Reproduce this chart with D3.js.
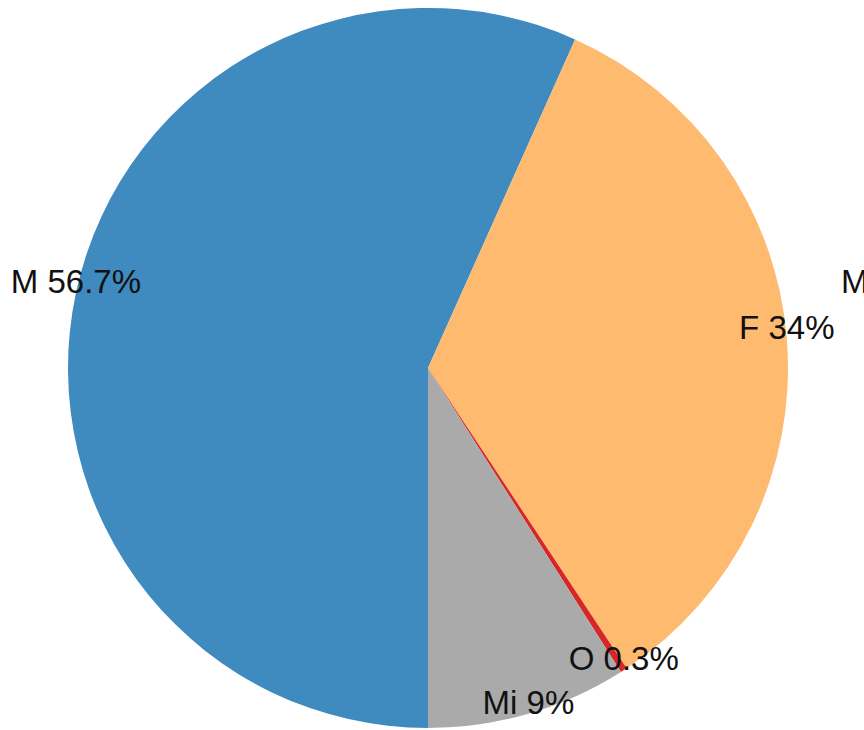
<!DOCTYPE html>
<html>
<head>
<meta charset="utf-8">
<script src="https://cdn.jsdelivr.net/npm/d3@7"></script>
<style>
  html, body { margin: 0; padding: 0; background: #fff; }
  svg { display: block; }
  text { font-family: "Liberation Sans", Arial, sans-serif; font-size: 33px; fill: #111; }
</style>
</head>
<body>
<svg id="chart" width="864" height="730"></svg>
<script>
const categories = ["M", "F", "O", "Mi"];
const values = [56.7, 34, 0.3, 9];
const colors = ["#3f8abf", "#feba6f", "#d62728", "#aaaaaa"];
const strayLabel = "M";

const width = 864, height = 730;
const cx = 428, cy = 368, radius = 360;

const data = categories.map((c, i) => ({ name: c, value: values[i], color: colors[i] }));

const svg = d3.select("#chart");
const g = svg.append("g").attr("transform", `translate(${cx},${cy})`);

const pie = d3.pie().sort(null).value(d => d.value)
  .startAngle(Math.PI).endAngle(3 * Math.PI);
const arcs = pie(data);

const arc = d3.arc().innerRadius(0).outerRadius(radius);
const labelArc = d3.arc().innerRadius(radius).outerRadius(radius);

g.selectAll("path.slice").data(arcs).enter().append("path")
  .attr("class", "slice")
  .attr("d", arc)
  .attr("fill", d => d.data.color);

g.selectAll("text.lbl").data(arcs).enter().append("text")
  .attr("class", "lbl")
  .attr("transform", d => `translate(${labelArc.centroid(d)})`)
  .attr("text-anchor", "middle")
  .text(d => `${d.data.name} ${d.data.value}%`);

svg.append("text")
  .attr("x", 841).attr("y", 293)
  .attr("text-anchor", "start")
  .text(strayLabel);
</script>
</body>
</html>
